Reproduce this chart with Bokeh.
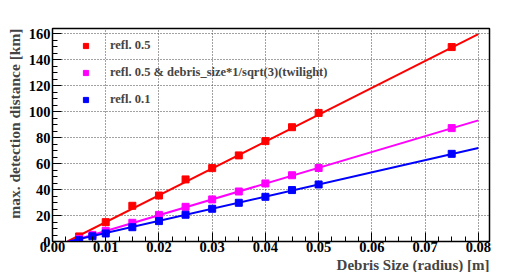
from bokeh.plotting import figure
from bokeh.models import (FixedTicker, Range1d, Title, Legend, LegendItem,
                          NumeralTickFormatter)
from bokeh.embed import file_html
from bokeh.resources import INLINE
import numpy as np

# ---- data ----
red_x = [0.005, 0.01, 0.015, 0.02, 0.025, 0.03, 0.035, 0.04, 0.045, 0.05, 0.075]
red_y = [3.9, 14.9, 27.5, 35.4, 47.8, 56.5, 66.3, 77.3, 88.0, 99.0, 149.7]

mag_x = [0.005, 0.0075, 0.01, 0.015, 0.02, 0.025, 0.03, 0.035, 0.04, 0.045, 0.05, 0.075]
mag_y = [2.0, 5.1, 8.2, 14.4, 20.5, 26.7, 32.4, 38.5, 44.7, 51.0, 56.6, 87.3]

blue_x = [0.005, 0.0075, 0.01, 0.015, 0.02, 0.025, 0.03, 0.035, 0.04, 0.045, 0.05, 0.075]
blue_y = [1.0, 4.0, 6.2, 11.0, 15.7, 20.6, 25.2, 29.8, 34.4, 39.6, 43.9, 67.5]

# linear fit parameters (slope, intercept)
red_fit = [2069.0, -5.8]
mag_fit = [1217.0, -4.1]
blue_fit = [934.0, -2.8]
fit_xmax = 0.08

labels = ["refl. 0.5",
          "refl. 0.5 & debris_size*1/sqrt(3)(twilight)",
          "refl. 0.1"]

x_ticks = [0.0, 0.01, 0.02, 0.03, 0.04, 0.05, 0.06, 0.07, 0.08]
y_ticks = [0, 20, 40, 60, 80, 100, 120, 140, 160]

FONT = "Liberation Serif"

p = figure(width=499, height=272, output_backend="svg", toolbar_location=None,
           x_range=Range1d(0, 0.0821), y_range=Range1d(0, 164),
           min_border_left=52, min_border_right=10, min_border_top=28,
           min_border_bottom=31)
p.background_fill_color = "white"
p.border_fill_color = "white"
p.outline_line_color = "black"
p.outline_line_width = 1.5

for ax, ticks, minor in ((p.xaxis[0], x_ticks, list(np.arange(0, 0.0821, 0.0025))),
                         (p.yaxis[0], y_ticks, list(range(0, 165, 5)))):
    ax.ticker = FixedTicker(ticks=ticks, minor_ticks=minor)
    ax.major_tick_in = 9
    ax.major_tick_out = 0
    ax.minor_tick_in = 5
    ax.minor_tick_out = 0
    ax.major_tick_line_color = "black"
    ax.minor_tick_line_color = "black"
    ax.axis_line_color = "black"
    ax.major_label_text_font = FONT
    ax.major_label_text_font_style = "bold"
    ax.major_label_text_font_size = "14.5px"
    ax.major_label_text_color = "black"
    ax.major_label_standoff = 2

p.xaxis[0].major_label_standoff = 0
p.xaxis[0].formatter = NumeralTickFormatter(format="0.00")

for g in (p.xgrid[0], p.ygrid[0]):
    g.grid_line_color = "#444444"
    g.grid_line_dash = "1 2"
    g.grid_line_width = 1

renderers = []
for xs, ys, fit, col in ((red_x, red_y, red_fit, "#ff0000"),
                         (mag_x, mag_y, mag_fit, "#ff00ff"),
                         (blue_x, blue_y, blue_fit, "#0000ff")):
    slope, icpt = fit
    x0 = -icpt / slope
    lx = [x0, fit_xmax]
    ly = [slope * x + icpt for x in lx]
    p.line(lx, ly, line_color=col, line_width=2)
    r = p.scatter(xs, ys, marker="square", size=7, fill_color=col, line_color=col)
    renderers.append(r)

legend = Legend(items=[LegendItem(label=l, renderers=[r]) for l, r in zip(labels, renderers)],
                location=(27, 132), orientation="vertical",
                border_line_color=None, background_fill_alpha=0,
                glyph_width=13, glyph_height=13, label_height=20,
                spacing=7, padding=0, margin=0, label_standoff=18,
                label_text_font=FONT, label_text_font_style="bold",
                label_text_font_size="12.5px")
p.add_layout(legend, "center")

xt = Title(text="Debris Size (radius) [m]", align="right", text_font=FONT,
           text_font_style="bold", text_font_size="15px", standoff=0, offset=0)
p.add_layout(xt, "below")
yt = Title(text="max. detection distance [km]", align="right", text_font=FONT,
           text_font_style="bold", text_font_size="15.5px", standoff=6, offset=0)
p.add_layout(yt, "left")

open("out.html", "w").write(file_html(p, INLINE))
